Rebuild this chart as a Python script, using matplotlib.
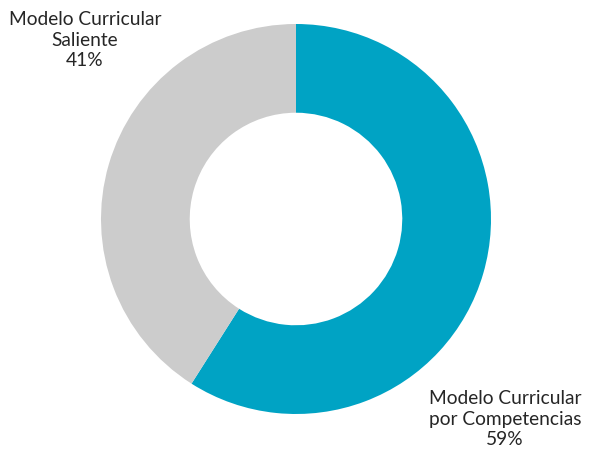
import matplotlib
matplotlib.use("Agg")
import matplotlib.pyplot as plt

categories = ["Modelo Curricular\npor Competencias", "Modelo Curricular\nSaliente"]
values = [59, 41]
colors = ["#00A3C4", "#CCCCCC"]

W, H = 594, 457
fig = plt.figure(figsize=(W / 100, H / 100), dpi=100)
ax = fig.add_axes([0, 0, 1, 1])
cx, cy, r = 296, H - 219, 195
ax.pie(values, colors=colors, startangle=90, counterclock=False,
       center=(cx, cy), radius=r, frame=True,
       wedgeprops=dict(width=r * 0.455, edgecolor="none"))
ax.set_xlim(0, W)
ax.set_ylim(0, H)
ax.set_aspect("equal")
ax.axis("off")

font = dict(family=["Lato", "DejaVu Sans"], fontsize=13.8, color="#262626",
            ha="center", va="center", linespacing=1.28)
ax.text(85, H - 40, f"{categories[1]}\n{values[1]}%", **font)
ax.text(505, H - 419, f"{categories[0]}\n{values[0]}%", **font)

fig.savefig("out.png", dpi=100)
